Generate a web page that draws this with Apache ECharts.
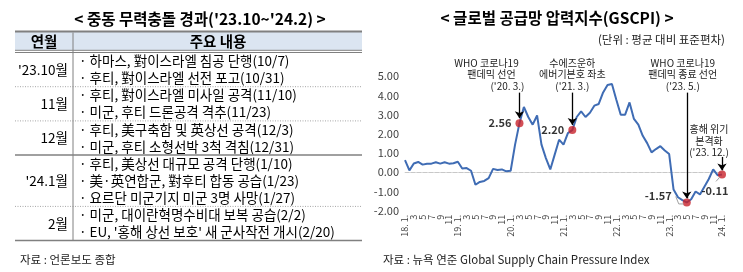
<!DOCTYPE html>
<html>
<head>
<meta charset="utf-8">
<script src="https://cdn.jsdelivr.net/npm/echarts/dist/echarts.min.js"></script>
<style>
  html, body { margin: 0; padding: 0; background: #fff; }
  #chart { width: 743px; height: 272px; }
</style>
</head>
<body>
<div id="chart"></div>
<script>
// ---- data ----
const months = [
  '18.1', '18.2', '18.3', '18.4', '18.5', '18.6', '18.7', '18.8', '18.9', '18.10', '18.11', '18.12',
  '19.1', '19.2', '19.3', '19.4', '19.5', '19.6', '19.7', '19.8', '19.9', '19.10', '19.11', '19.12',
  '20.1', '20.2', '20.3', '20.4', '20.5', '20.6', '20.7', '20.8', '20.9', '20.10', '20.11', '20.12',
  '21.1', '21.2', '21.3', '21.4', '21.5', '21.6', '21.7', '21.8', '21.9', '21.10', '21.11', '21.12',
  '22.1', '22.2', '22.3', '22.4', '22.5', '22.6', '22.7', '22.8', '22.9', '22.10', '22.11', '22.12',
  '23.1', '23.2', '23.3', '23.4', '23.5', '23.6', '23.7', '23.8', '23.9', '23.10', '23.11', '23.12',
  '24.1'
];

const gscpi = [
  0.63, 0.10, 0.46, 0.54, 0.40, 0.45, 0.45, 0.52, 0.45, 0.52, 0.45, 0.47,
  0.55, 0.20, 0.22, 0.08, -0.65, -0.50, -0.45, -0.30, 0.18, 0.12, 0.15, 0.05,
  0.08, 1.44, 2.56, 3.40, 2.88, 2.48, 2.96, 1.44, 0.74, 0.15, 0.92, 1.70,
  1.44, 2.04, 2.20, 2.88, 3.17, 2.88, 3.10, 3.47, 3.56, 4.16, 4.55, 4.60,
  3.78, 3.00, 3.00, 3.64, 2.78, 2.48, 1.90, 1.52, 1.04, 1.21, 1.36, 1.14,
  0.95, -0.90, -1.30, -1.45, -1.57, -1.40, -1.00, -1.15, -0.75, -0.35, 0.15, -0.15,
  -0.11
];

// highlighted points and their notes
const eventMonths = ['20.3', '21.3', '23.5', '24.1'];
const eventValues = [2.56, 2.20, -1.57, -0.11];
const eventNotes = [
  ['WHO 코로나19', '팬데믹 선언', "('20. 3.)"],
  ['수에즈운하', '에버기븐호 좌초', "('21. 3.)"],
  ['WHO 코로나19', '팬데믹 종료 선언', "('23. 5.)"],
  ['홍해 위기', '본격화', "('23. 12.)"]
];

// table on the left
const tableMonths = ["'23.10월", '11월', '12월', "'24.1월", '2월'];
const tableItems = [
  ['하마스, 對이스라엘 침공 단행(10/7)', '후티, 對이스라엘 선전 포고(10/31)'],
  ['후티, 對이스라엘 미사일 공격(11/10)', '미군, 후티 드론공격 격추(11/23)'],
  ['후티, 美구축함 및 英상선 공격(12/3)', '미군, 후티 소형선박 3척 격침(12/31)'],
  ['후티, 美상선 대규모 공격 단행(1/10)', '美·英연합군, 對후티 합동 공습(1/23)', '요르단 미군기지 미군 3명 사망(1/27)'],
  ['미군, 대이란혁명수비대 보복 공습(2/2)', "EU, '홍해 상선 보호' 새 군사작전 개시(2/20)"]
];

const FONT = '"Noto Sans CJK KR", "Noto Sans", sans-serif';
const BLUE = '#3f6cb4';
const RED = '#c8232c';

const eventIdx = eventMonths.map((m) => months.indexOf(m));

// arrow start/end (in data units) for each note
const arrowTop = [4.15, 4.15, 4.15, 0.8];
const arrowTip = [2.82, 2.46, -1.36, 0.1];

const chart = echarts.init(document.getElementById('chart'), null, { renderer: 'canvas' });

const option = {
  backgroundColor: '#fff',
  animation: false,
  textStyle: { fontFamily: FONT },
  title: [
    {
      text: "< 중동 무력충돌 경과('23.10~'24.2) >",
      left: 195, top: 6, textAlign: 'center',
      textStyle: { fontFamily: FONT, fontSize: 15.5, fontWeight: 'bold', color: '#000' }
    },
    {
      text: '< 글로벌 공급망 압력지수(GSCPI) >',
      left: 552, top: 5, textAlign: 'center',
      textStyle: { fontFamily: FONT, fontSize: 15.5, fontWeight: 'bold', color: '#000' }
    },
    {
      text: '(단위 : 평균 대비 표준편차)',
      right: 13, top: 29,
      textStyle: { fontFamily: FONT, fontSize: 11.5, fontWeight: 'normal', color: '#222' }
    },
    {
      text: '자료 : 언론보도 종합',
      left: 15, top: 249,
      textStyle: { fontFamily: FONT, fontSize: 11.5, fontWeight: 'normal', color: '#222' }
    },
    {
      text: '자료 : 뉴욕 연준 Global Supply Chain Pressure Index',
      left: 378, top: 249,
      textStyle: { fontFamily: FONT, fontSize: 11.5, fontWeight: 'normal', color: '#222' }
    }
  ],
  grid: {
    left: 405, right: 21, top: 76.3, bottom: 61.3,
    containLabel: false, outerBoundsMode: 'none'
  },
  xAxis: {
    type: 'category',
    data: months,
    boundaryGap: false,
    axisLine: { show: true, lineStyle: { color: '#d9d9d9', width: 1 } },
    axisTick: { show: false },
    splitLine: { show: false },
    axisLabel: {
      interval: 1,
      rotate: 90,
      margin: 4,
      fontSize: 9,
      color: '#404040',
      fontFamily: FONT,
      showMinLabel: true,
      showMaxLabel: true,
      hideOverlap: false,
      formatter: (v) => {
        const [yy, mm] = v.split('.');
        return mm === '1' ? yy + '. 1.' : mm;
      }
    }
  },
  yAxis: {
    type: 'value',
    min: -2, max: 5, interval: 1,
    axisLine: { show: false },
    axisTick: { show: false },
    splitLine: { show: false },
    axisLabel: {
      margin: 6,
      fontSize: 11,
      color: '#404040',
      fontFamily: FONT,
      formatter: (v) => v.toFixed(2)
    }
  },
  series: [
    {
      name: 'GSCPI',
      type: 'line',
      data: gscpi,
      symbol: 'none',
      smooth: false,
      lineStyle: { color: BLUE, width: 2 },
      z: 3,
      markLine: {
        silent: true,
        symbol: 'none',
        label: { show: false },
        lineStyle: { color: '#c8c8c8', type: 'dashed', width: 1 },
        data: [{ yAxis: 0 }],
        z: 1
      }
    },
    {
      name: 'events',
      type: 'scatter',
      data: eventIdx.map((idx, i) => {
        const d = { value: [idx, eventValues[i]] };
        if (i === 2) {
          d.label = { position: 'left', distance: 11, offset: [0, -7] };
        } else if (i === 3) {
          d.label = { position: 'bottom', distance: 7, offset: [-7, 0] };
        }
        return d;
      }),
      symbol: 'circle',
      symbolSize: 8,
      itemStyle: { color: RED },
      z: 5,
      label: {
        show: true,
        position: 'left',
        distance: 4,
        fontFamily: FONT,
        fontSize: 11,
        fontWeight: 'bold',
        color: '#000',
        formatter: (p) => p.value[1].toFixed(2)
      },
      markLine: {
        silent: true,
        symbol: ['none', 'arrow'],
        symbolSize: 7,
        label: { show: false },
        lineStyle: { color: '#000', type: 'solid', width: 1.3 },
        data: eventIdx.map((idx, i) => [
          { coord: [idx, arrowTop[i]] },
          { coord: [idx, arrowTip[i]] }
        ]),
        z: 4
      }
    }
  ]
};

chart.setOption(option);

// ---- graphic: table and note texts ----
const graphic = [];
const tX0 = 15, tX1 = 362, tDiv = 73;
const headTop = 31.5, headBot = 52.5, lineH = 17.1;
const CELL_FONT = '13.5px ' + FONT;

graphic.push({
  type: 'rect', shape: { x: tX0, y: headTop, width: tX1 - tX0, height: 18.5 },
  style: { fill: '#dbe5f1' }, silent: true
});
graphic.push({
  type: 'line', shape: { x1: tX0, y1: headTop, x2: tX1, y2: headTop },
  style: { stroke: '#808080', lineWidth: 2 }, silent: true
});
graphic.push({
  type: 'line', shape: { x1: tX0, y1: 50.3, x2: tX1, y2: 50.3 },
  style: { stroke: '#808080', lineWidth: 1 }, silent: true
});
graphic.push({
  type: 'line', shape: { x1: tX0, y1: headBot, x2: tX1, y2: headBot },
  style: { stroke: '#808080', lineWidth: 1 }, silent: true
});
graphic.push({
  type: 'text', style: {
    text: '연월', x: 44, y: 41.5, align: 'center', verticalAlign: 'middle',
    font: 'bold 14.5px ' + FONT, fill: '#000'
  }, silent: true
});
graphic.push({
  type: 'text', style: {
    text: '주요 내용', x: 218, y: 41.5, align: 'center', verticalAlign: 'middle',
    font: 'bold 14.5px ' + FONT, fill: '#000'
  }, silent: true
});

let rowTop = headBot;
tableItems.forEach((items, r) => {
  const h = items.length * lineH;
  graphic.push({
    type: 'text', style: {
      text: tableMonths[r], x: 68, y: rowTop + h / 2, align: 'right', verticalAlign: 'middle',
      font: CELL_FONT, fill: '#000'
    }, silent: true
  });
  items.forEach((t, k) => {
    graphic.push({
      type: 'text', style: {
        text: '· ' + t, x: 79, y: rowTop + lineH * (k + 0.5), align: 'left', verticalAlign: 'middle',
        font: CELL_FONT, fill: '#000'
      }, silent: true
    });
  });
  rowTop += h;
  const last = r === tableItems.length - 1;
  const solid = last || r === 2;
  graphic.push({
    type: 'line', shape: { x1: tX0, y1: rowTop, x2: tX1, y2: rowTop },
    style: {
      stroke: solid ? '#808080' : '#a6a6a6',
      lineWidth: solid ? 1.5 : 1,
      lineDash: solid ? null : [1, 1.5]
    }, silent: true
  });
});
graphic.push({
  type: 'line', shape: { x1: tDiv, y1: headTop + 1, x2: tDiv, y2: rowTop },
  style: { stroke: '#808080', lineWidth: 1 }, silent: true
});

// notes above the highlighted points
const noteDx = [[-33, -28, -12], [0, 0, 0], [-4, -4, -4], [-13, -13, -13]];
const noteTopY = [63.3, 63.3, 63.3, null];
eventIdx.forEach((idx, i) => {
  const p = chart.convertToPixel({ xAxisIndex: 0, yAxisIndex: 0 }, [idx, eventValues[i]]);
  eventNotes[i].forEach((t, k) => {
    const y0 = noteTopY[i] !== null ? noteTopY[i] : p[1] - 45;
    graphic.push({
      type: 'text', style: {
        text: t, x: p[0] + noteDx[i][k], y: y0 + k * 11.3,
        align: 'center', verticalAlign: 'middle',
        font: '10px ' + FONT, fill: '#222'
      }, silent: true
    });
  });
  // leader lines for the lower labels
  if (i === 2) {
    graphic.push({
      type: 'polyline', shape: { points: [[p[0] - 11, p[1] - 6], [p[0] - 8, p[1] + 1.5], [p[0] - 3, p[1] + 1.5]] },
      style: { stroke: '#a0a0a0', lineWidth: 1, fill: null }, silent: true, z: 10
    });
  }
  if (i === 3) {
    graphic.push({
      type: 'line', shape: { x1: p[0] - 6, y1: p[1] + 7, x2: p[0] - 2, y2: p[1] + 2.5 },
      style: { stroke: '#a0a0a0', lineWidth: 1 }, silent: true, z: 10
    });
  }
});

chart.setOption({ graphic: graphic });
</script>
</body>
</html>
